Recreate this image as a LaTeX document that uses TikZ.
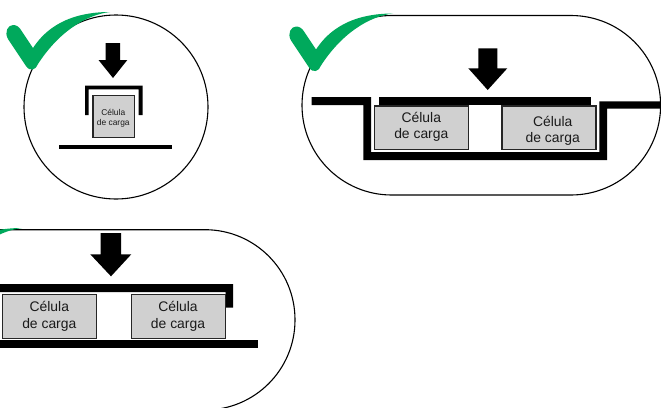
\documentclass[tikz,border=0pt]{standalone}
\usepackage{fontspec}
\setmainfont{Liberation Sans}
\definecolor{checkgreen}{HTML}{00A95C}
\definecolor{cellgray}{HTML}{D0D0D0}
\definecolor{celltext}{HTML}{1A1A1A}
\tikzset{
  outline/.style={draw=black,line width=1.1pt},
  solidbar/.style={fill=black,draw=none},
  cellbox/.style={draw=black!85,fill=cellgray,line width=1.2pt,inner sep=0pt},
  celllabel/.style={align=center,text=celltext,font=\fontsize{13.9}{15.5}\selectfont,inner sep=0pt},
  smalllabel/.style={align=center,text=celltext,font=\fontsize{8.4}{10.5}\selectfont,inner sep=0pt},
  greencheck/.pic={
    \fill[checkgreen] (33,48) .. controls (41,36) and (60,12) .. (110,12)
      .. controls (85,15) and (58,33) .. (38,64)
      .. controls (36,70) and (30,72) .. (26,66)
      -- (8,39) .. controls (4,32) and (8,25) .. (13,25)
      .. controls (17,25) and (19,27) .. (21,30) -- cycle;
  }
}
\begin{document}
\begin{tikzpicture}[x=1pt,y=-1pt]
\useasboundingbox (0,0) rectangle (661,407);
\clip (0,0) rectangle (661,407);
\fill[white] (0,0) rectangle (661,407);

% Panel 1
\draw[outline] (116,107) circle[radius=92];
\fill[solidbar] (105.7,43) -- (120,43) -- (120,60) -- (127.3,60) -- (113,78) -- (98.5,60) -- (105.7,60) -- cycle;
\fill[solidbar] (85,115) -- (85,85.7) -- (142.7,85.7) -- (142.7,115) -- (138.7,115) -- (138.7,89.3) -- (88.7,89.3) -- (88.7,115) -- cycle;
\node[cellbox,minimum width=41.5pt,minimum height=41.5pt] (cellA) at (113.8,116.6) {};
\node[smalllabel] (labelA) at (113.3,118.5) {Célula\\de carga};
\fill[solidbar] (59,144.7) rectangle (172,149);
\pic at (0,0) {greencheck};

% Panel 2
\draw[outline,rounded corners=89.7pt] (302,15.5) rectangle (660.6,195);
\fill[solidbar] (478.3,48.3) -- (497.3,48.3) -- (497.3,68.3) -- (507.3,68.3) -- (487.7,90) -- (468.3,68.3) -- (478.3,68.3) -- cycle;
% channel
\fill[solidbar] (311.7,97) -- (371,97) -- (371,152) -- (599.3,152) -- (599.3,101.3) -- (661,101.3) -- (661,108.7) -- (607,108.7) -- (607,160) -- (363.3,160) -- (363.3,105) -- (311.7,105) -- cycle;
% top plate
\fill[solidbar] (379,97) rectangle (591,105);
\node[cellbox,minimum width=94.4pt,minimum height=43.7pt] (cellB) at (421.5,127.9) {};
\node[cellbox,minimum width=94pt,minimum height=43.7pt] (cellC) at (549,127.9) {};
\node[celllabel] (labelB) at (421.3,127) {Célula\\de carga};
\node[celllabel] (labelC) at (552.7,131) {Célula\\de carga};
\pic at (283,1.5) {greencheck};

% Panel 3
\draw[outline,rounded corners=90pt] (-100,229.7) rectangle (295,410);
\fill[solidbar] (100.7,233) -- (121,233) -- (121,254.3) -- (131.3,254.3) -- (111,276.3) -- (90.3,254.3) -- (100.7,254.3) -- cycle;
\fill[solidbar] (0,284) -- (233,284) -- (233,307.7) -- (225.7,307.7) -- (225.7,292) -- (0,292) -- cycle;
\fill[solidbar] (0,340) rectangle (258,348);
\node[cellbox,minimum width=94.4pt,minimum height=44.4pt] (cellD) at (49.5,316.5) {};
\node[cellbox,minimum width=94.4pt,minimum height=44.4pt] (cellE) at (178.5,316.5) {};
\node[celllabel] (labelD) at (49.3,316.3) {Célula\\[0.9pt]de carga};
\node[celllabel] (labelE) at (178,316.3) {Célula\\[0.9pt]de carga};
\pic at (-88,216) {greencheck};
\end{tikzpicture}
\end{document}
